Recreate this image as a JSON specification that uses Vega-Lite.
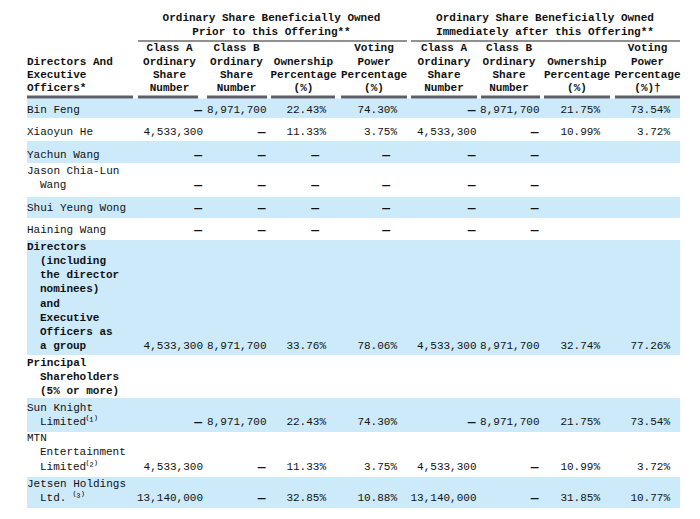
{
  "$schema": "https://vega.github.io/schema/vega-lite/v6.json",
  "width": 700,
  "height": 519,
  "autosize": {"type": "none"},
  "padding": 0,
  "background": "#ffffff",
  "view": {"stroke": null},
  "datasets": {
    "bands": [
      {"top": 0, "bottom": 1}, {"top": 2, "bottom": 3}, {"top": 4, "bottom": 5},
      {"top": 6, "bottom": 7}, {"top": 8, "bottom": 9}, {"top": 10, "bottom": 11}
    ],
    "rules": [
      {"h": 0, "from": 2, "to": 9}, {"h": 0, "from": 10, "to": 17},
      {"h": 1, "from": 0, "to": 1}, {"h": 1, "from": 2, "to": 3}, {"h": 1, "from": 4, "to": 5},
      {"h": 1, "from": 6, "to": 7}, {"h": 1, "from": 8, "to": 9}, {"h": 1, "from": 10, "to": 11},
      {"h": 1, "from": 12, "to": 13}, {"h": 1, "from": 14, "to": 15}, {"h": 1, "from": 16, "to": 17}
    ],
    "head": [
      {"hl": 0, "c": 9, "t": "Ordinary Share Beneficially Owned"},
      {"hl": 1, "c": 9, "t": "Prior to this Offering**"},
      {"hl": 0, "c": 10, "t": "Ordinary Share Beneficially Owned"},
      {"hl": 1, "c": 10, "t": "Immediately after this Offering**"},
      {"hl": 3, "c": 0, "t": "Directors And"},
      {"hl": 4, "c": 0, "t": "Executive"},
      {"hl": 5, "c": 0, "t": "Officers*"},
      {"hl": 2, "c": 1, "t": "Class  A"}, {"hl": 3, "c": 1, "t": "Ordinary"}, {"hl": 4, "c": 1, "t": "Share"}, {"hl": 5, "c": 1, "t": "Number"},
      {"hl": 2, "c": 2, "t": "Class  B"}, {"hl": 3, "c": 2, "t": "Ordinary"}, {"hl": 4, "c": 2, "t": "Share"}, {"hl": 5, "c": 2, "t": "Number"},
      {"hl": 3, "c": 3, "t": "Ownership"}, {"hl": 4, "c": 3, "t": "Percentage"}, {"hl": 5, "c": 3, "t": "(%)"},
      {"hl": 2, "c": 4, "t": "Voting"}, {"hl": 3, "c": 4, "t": "Power"}, {"hl": 4, "c": 4, "t": "Percentage"}, {"hl": 5, "c": 4, "t": "(%)"},
      {"hl": 2, "c": 5, "t": "Class  A"}, {"hl": 3, "c": 5, "t": "Ordinary"}, {"hl": 4, "c": 5, "t": "Share"}, {"hl": 5, "c": 5, "t": "Number"},
      {"hl": 2, "c": 6, "t": "Class  B"}, {"hl": 3, "c": 6, "t": "Ordinary"}, {"hl": 4, "c": 6, "t": "Share"}, {"hl": 5, "c": 6, "t": "Number"},
      {"hl": 3, "c": 7, "t": "Ownership"}, {"hl": 4, "c": 7, "t": "Percentage"}, {"hl": 5, "c": 7, "t": "(%)"},
      {"hl": 2, "c": 8, "t": "Voting"}, {"hl": 3, "c": 8, "t": "Power"}, {"hl": 4, "c": 8, "t": "Percentage"}, {"hl": 5, "c": 8, "t": "(%)†"}
    ],
    "body": [
      {"L": 0, "r": 0, "c": 0, "k": 0, "t": "Bin Feng"},
      {"L": 0, "r": 0, "c": 1, "t": "—"},
      {"L": 0, "r": 0, "c": 2, "t": "8,971,700"},
      {"L": 0, "r": 0, "c": 3, "t": "22.43%"},
      {"L": 0, "r": 0, "c": 4, "t": "74.30%"},
      {"L": 0, "r": 0, "c": 5, "t": "—"},
      {"L": 0, "r": 0, "c": 6, "t": "8,971,700"},
      {"L": 0, "r": 0, "c": 7, "t": "21.75%"},
      {"L": 0, "r": 0, "c": 8, "t": "73.54%"},

      {"L": 1, "r": 1, "c": 0, "k": 0, "t": "Xiaoyun He"},
      {"L": 1, "r": 1, "c": 1, "t": "4,533,300"},
      {"L": 1, "r": 1, "c": 2, "t": "—"},
      {"L": 1, "r": 1, "c": 3, "t": "11.33%"},
      {"L": 1, "r": 1, "c": 4, "t": "3.75%"},
      {"L": 1, "r": 1, "c": 5, "t": "4,533,300"},
      {"L": 1, "r": 1, "c": 6, "t": "—"},
      {"L": 1, "r": 1, "c": 7, "t": "10.99%"},
      {"L": 1, "r": 1, "c": 8, "t": "3.72%"},

      {"L": 2, "r": 2, "c": 0, "k": 0, "t": "Yachun Wang"},
      {"L": 2, "r": 2, "c": 1, "t": "—"}, {"L": 2, "r": 2, "c": 2, "t": "—"}, {"L": 2, "r": 2, "c": 3, "t": "—"},
      {"L": 2, "r": 2, "c": 4, "t": "—"}, {"L": 2, "r": 2, "c": 5, "t": "—"}, {"L": 2, "r": 2, "c": 6, "t": "—"},

      {"L": 3, "r": 3, "c": 0, "k": 0, "t": "Jason Chia-Lun"},
      {"L": 4, "r": 3, "c": 0, "k": 1, "t": "Wang"},
      {"L": 4, "r": 3, "c": 1, "t": "—"}, {"L": 4, "r": 3, "c": 2, "t": "—"}, {"L": 4, "r": 3, "c": 3, "t": "—"},
      {"L": 4, "r": 3, "c": 4, "t": "—"}, {"L": 4, "r": 3, "c": 5, "t": "—"}, {"L": 4, "r": 3, "c": 6, "t": "—"},

      {"L": 5, "r": 4, "c": 0, "k": 0, "t": "Shui Yeung Wong"},
      {"L": 5, "r": 4, "c": 1, "t": "—"}, {"L": 5, "r": 4, "c": 2, "t": "—"}, {"L": 5, "r": 4, "c": 3, "t": "—"},
      {"L": 5, "r": 4, "c": 4, "t": "—"}, {"L": 5, "r": 4, "c": 5, "t": "—"}, {"L": 5, "r": 4, "c": 6, "t": "—"},

      {"L": 6, "r": 5, "c": 0, "k": 0, "t": "Haining Wang"},
      {"L": 6, "r": 5, "c": 1, "t": "—"}, {"L": 6, "r": 5, "c": 2, "t": "—"}, {"L": 6, "r": 5, "c": 3, "t": "—"},
      {"L": 6, "r": 5, "c": 4, "t": "—"}, {"L": 6, "r": 5, "c": 5, "t": "—"}, {"L": 6, "r": 5, "c": 6, "t": "—"},

      {"L": 7, "r": 6, "c": 0, "k": 0, "t": "Directors"},
      {"L": 8, "r": 6, "c": 0, "k": 1, "t": "(including"},
      {"L": 9, "r": 6, "c": 0, "k": 2, "t": "the director"},
      {"L": 10, "r": 6, "c": 0, "k": 3, "t": "nominees)"},
      {"L": 11, "r": 6, "c": 0, "k": 4, "t": "and"},
      {"L": 12, "r": 6, "c": 0, "k": 5, "t": "Executive"},
      {"L": 13, "r": 6, "c": 0, "k": 6, "t": "Officers as"},
      {"L": 14, "r": 6, "c": 0, "k": 7, "t": "a group"},
      {"L": 14, "r": 6, "c": 1, "t": "4,533,300"},
      {"L": 14, "r": 6, "c": 2, "t": "8,971,700"},
      {"L": 14, "r": 6, "c": 3, "t": "33.76%"},
      {"L": 14, "r": 6, "c": 4, "t": "78.06%"},
      {"L": 14, "r": 6, "c": 5, "t": "4,533,300"},
      {"L": 14, "r": 6, "c": 6, "t": "8,971,700"},
      {"L": 14, "r": 6, "c": 7, "t": "32.74%"},
      {"L": 14, "r": 6, "c": 8, "t": "77.26%"},

      {"L": 15, "r": 7, "c": 0, "k": 0, "t": "Principal"},
      {"L": 16, "r": 7, "c": 0, "k": 1, "t": "Shareholders"},
      {"L": 17, "r": 7, "c": 0, "k": 2, "t": "(5% or more)"},

      {"L": 18, "r": 8, "c": 0, "k": 0, "t": "Sun Knight"},
      {"L": 19, "r": 8, "c": 0, "k": 1, "t": "Limited⁽¹⁾"},
      {"L": 19, "r": 8, "c": 1, "t": "—"},
      {"L": 19, "r": 8, "c": 2, "t": "8,971,700"},
      {"L": 19, "r": 8, "c": 3, "t": "22.43%"},
      {"L": 19, "r": 8, "c": 4, "t": "74.30%"},
      {"L": 19, "r": 8, "c": 5, "t": "—"},
      {"L": 19, "r": 8, "c": 6, "t": "8,971,700"},
      {"L": 19, "r": 8, "c": 7, "t": "21.75%"},
      {"L": 19, "r": 8, "c": 8, "t": "73.54%"},

      {"L": 20, "r": 9, "c": 0, "k": 0, "t": "MTN"},
      {"L": 21, "r": 9, "c": 0, "k": 1, "t": "Entertainment"},
      {"L": 22, "r": 9, "c": 0, "k": 2, "t": "Limited⁽²⁾"},
      {"L": 22, "r": 9, "c": 1, "t": "4,533,300"},
      {"L": 22, "r": 9, "c": 2, "t": "—"},
      {"L": 22, "r": 9, "c": 3, "t": "11.33%"},
      {"L": 22, "r": 9, "c": 4, "t": "3.75%"},
      {"L": 22, "r": 9, "c": 5, "t": "4,533,300"},
      {"L": 22, "r": 9, "c": 6, "t": "—"},
      {"L": 22, "r": 9, "c": 7, "t": "10.99%"},
      {"L": 22, "r": 9, "c": 8, "t": "3.72%"},

      {"L": 23, "r": 10, "c": 0, "k": 0, "t": "Jetsen Holdings"},
      {"L": 24, "r": 10, "c": 0, "k": 1, "t": "Ltd. ⁽³⁾"},
      {"L": 24, "r": 10, "c": 1, "t": "13,140,000"},
      {"L": 24, "r": 10, "c": 2, "t": "—"},
      {"L": 24, "r": 10, "c": 3, "t": "32.85%"},
      {"L": 24, "r": 10, "c": 4, "t": "10.88%"},
      {"L": 24, "r": 10, "c": 5, "t": "13,140,000"},
      {"L": 24, "r": 10, "c": 6, "t": "—"},
      {"L": 24, "r": 10, "c": 7, "t": "31.85%"},
      {"L": 24, "r": 10, "c": 8, "t": "10.77%"}
    ]
  },
  "layer": [
    {
      "data": {"name": "bands"},
      "mark": {"type": "rect", "color": "#cdeafb"},
      "encoding": {
        "x": {"datum": 0, "type": "quantitative", "scale": {"domain": [0, 1], "range": [27, 680], "nice": false, "zero": false}, "axis": null},
        "x2": {"datum": 1},
        "y": {"field": "top", "type": "quantitative", "scale": {"domain": [0, 1, 2, 3, 4, 5, 6, 7, 8, 9, 10, 11], "range": [98.5, 118, 141, 163, 197, 218, 240, 355, 398, 432, 477, 508], "nice": false, "zero": false}, "axis": null},
        "y2": {"field": "bottom"}
      }
    },
    {
      "data": {"name": "rules"},
      "mark": {"type": "rule", "strokeCap": "butt"},
      "encoding": {
        "x": {"field": "from", "type": "quantitative", "scale": {"domain": [0, 1, 2, 3, 4, 5, 6, 7, 8, 9, 10, 11, 12, 13, 14, 15, 16, 17], "range": [27, 133, 138, 198, 207, 267, 271, 335, 341, 407, 411, 477, 481, 540, 544, 610, 615, 680], "nice": false, "zero": false}, "axis": null},
        "x2": {"field": "to"},
        "y": {"field": "h", "type": "quantitative", "scale": {"domain": [0, 1], "range": [41, 97], "nice": false, "zero": false}, "axis": null},
        "strokeWidth": {"field": "h", "type": "ordinal", "scale": {"domain": [0, 1], "range": [1, 3]}, "legend": null},
        "color": {"field": "h", "type": "nominal", "scale": {"domain": [0, 1], "range": ["#222222", "#5b6068"]}, "legend": null}
      }
    },
    {
      "data": {"name": "head"},
      "mark": {"type": "text", "font": "Liberation Mono", "fontSize": 11, "fontWeight": "bold", "color": "#111111", "baseline": "middle",
               "align": {"expr": "datum.c == 0 ? 'left' : 'center'"}},
      "encoding": {
        "x": {"field": "c", "type": "quantitative", "scale": {"domain": [0, 1, 2, 3, 4, 5, 6, 7, 8, 9, 10], "range": [27, 169.5, 236.5, 303.5, 374, 444, 509, 577, 647.5, 271.5, 545], "nice": false, "zero": false}, "axis": null},
        "y": {"field": "hl", "type": "quantitative", "scale": {"domain": [0, 1, 2, 3, 4, 5], "range": [18.3, 31.7, 48.3, 61.7, 75, 88.3], "nice": false, "zero": false}, "axis": null},
        "text": {"field": "t"}
      }
    },
    {
      "data": {"name": "body"},
      "mark": {"type": "text", "font": "Liberation Mono", "color": "#111111", "baseline": "middle",
               "fontSize": {"expr": "datum.t == '—' ? 13 : 11"},
               "align": {"expr": "datum.c == 0 ? 'left' : 'right'"},
               "dx": {"expr": "datum.c == 0 ? (datum.k > 0 ? 13 : 0) : ((datum.t == '—' && (datum.c == 3 || datum.c == 4)) ? -7 : (datum.t == '—' ? -1 : 0))"},
               "fontWeight": {"expr": "((datum.c == 0 && (datum.r == 6 || datum.r == 7)) || datum.t == '—') ? 'bold' : 'normal'"}},
      "encoding": {
        "x": {"field": "c", "type": "quantitative", "scale": {"domain": [0, 1, 2, 3, 4, 5, 6, 7, 8], "range": [27, 203, 266.5, 326, 397, 476.5, 539.5, 600, 670], "nice": false, "zero": false}, "axis": null},
        "y": {"field": "L", "type": "quantitative", "scale": {"domain": [0, 1, 2, 3, 4, 5, 6, 7, 8, 9, 10, 11, 12, 13, 14, 15, 16, 17, 18, 19, 20, 21, 22, 23, 24], "range": [110, 131.5, 154.5, 171, 185, 208, 230, 246.7, 260.9, 275.1, 289.3, 303.5, 317.7, 331.9, 346.1, 362.7, 376.7, 390.7, 407.7, 422.3, 437.7, 452.3, 466.7, 484.3, 497.7], "nice": false, "zero": false}, "axis": null},
        "text": {"field": "t"}
      }
    }
  ],
  "resolve": {"scale": {"x": "independent", "y": "independent", "color": "independent", "strokeWidth": "independent"}}
}
